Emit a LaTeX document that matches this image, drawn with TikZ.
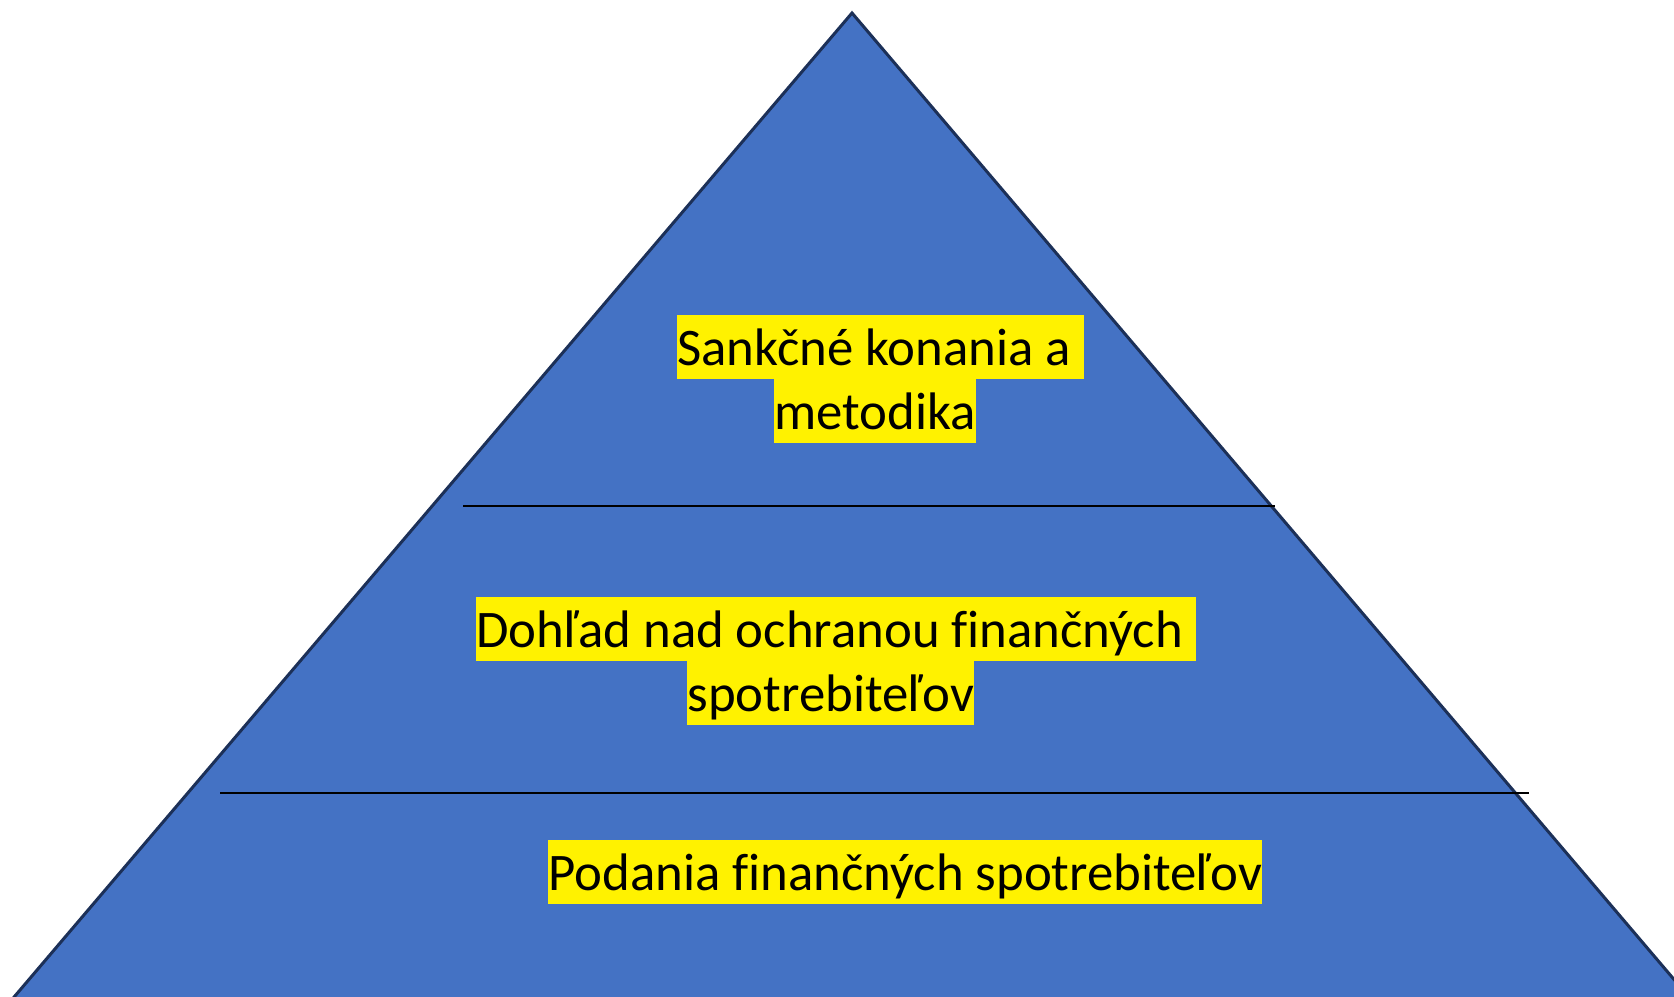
\documentclass[tikz,border=0pt]{standalone}
\usepackage{fontspec}
\setmainfont[Ligatures=NoCommon]{Carlito}
\definecolor{PyrBlue}{RGB}{68, 114, 196}
\definecolor{PyrEdge}{RGB}{28, 48, 88}
\usetikzlibrary{positioning}

\begin{document}
\begin{tikzpicture}[x=0.5pt, y=-0.5pt, font=\fontsize{26.4}{32}\selectfont,
	hl/.style={fill=yellow, inner sep=0pt, anchor=west,
		text height=25pt, text depth=7pt},
	sep/.style={black, line width=0.75pt}]
	\fill[white] (0,0) rectangle (1674,996);
	\clip (0,0) rectangle (1674,996);
	% pyramid
	\draw[PyrEdge, fill=PyrBlue, line width=1.5pt, line join=miter]
		(852,13) -- (1700,1010) -- (3,1010) -- cycle;
	% level lines
	\coordinate (s1) at (463,506);
	\coordinate (e1) at (1275,506);
	\coordinate (s2) at (220,793);
	\coordinate (e2) at (1529,793);
	\draw[sep] (s1) -- (e1);
	\draw[sep] (s2) -- (e2);
	% labels
	\node[hl] (T1) at (677,347) {Sankčné konania a\kern0.25em};
	\node[hl] (T2) at (774,411) {metodika};
	\node[hl] (M1) at (476,629) {Dohľad nad ochranou finančných\kern0.25em};
	\node[hl] (M2) at (687,693) {spotrebiteľov};
	\node[hl] (B1) at (548,872) {Podania finančných spotrebiteľov};
\end{tikzpicture}
\end{document}
